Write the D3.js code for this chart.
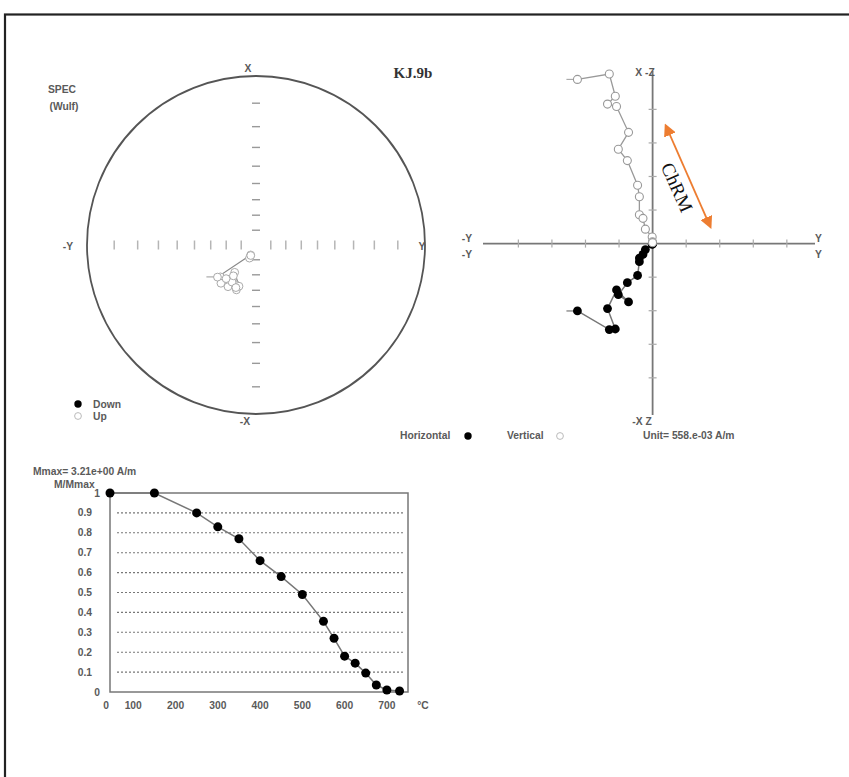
<!DOCTYPE html>
<html>
<head>
<meta charset="utf-8">
<script src="https://cdn.jsdelivr.net/npm/d3@7"></script>
<style>
  body { margin: 0; background: #fff; }
  svg { display: block; }
  .lbl { font-family: "Liberation Sans Narrow", "Liberation Sans", Arial, sans-serif; font-weight: bold; fill: #5a5a5a; font-size: 10.3px; }
</style>
</head>
<body>
<div id="chart"></div>
<script>
// Demagnetisation steps (°C) and normalised intensity M/Mmax
var temps = [45, 150, 250, 300, 350, 400, 450, 500, 550, 575, 600, 625, 650, 675, 700, 730]
var intensity = [1, 1, 0.90, 0.83, 0.77, 0.66, 0.58, 0.49, 0.355, 0.27, 0.18, 0.145, 0.095, 0.035, 0.01, 0.005]

// Vector components for each step (A/m): X north, Y east, Z down
var compX = [-1.12, -1.43, -1.42, -1.08, -0.77, -0.97, -0.85, -0.65, -0.53, -0.30, -0.24, -0.18, -0.10, -0.013, -0.005, -0.002]
var compY = [-1.25, -0.72, -0.62, -0.75, -0.60, -0.40, -0.57, -0.42, -0.25, -0.22, -0.22, -0.16, -0.12, -0.007, -0.0025, -0.001]
var compZ = [-2.73, -2.82, -2.45, -2.32, -2.28, -1.85, -1.57, -1.38, -0.97, -0.78, -0.48, -0.42, -0.24, -0.11, -0.032, -0.016]

// Axis ticks
var intensityTicks = [0, 0.1, 0.2, 0.3, 0.4, 0.5, 0.6, 0.7, 0.8, 0.9, 1]
var tempTicks = [100, 200, 300, 400, 500, 600, 700]
var stereoTickInc = [10, 20, 30, 40, 50, 60, 70, 80]
var zijUnit = 0.558
var zijTicksH = [-4, -3, -2, -1, 1, 2, 3, 4]
var zijTicksV = [-4, -3, -2, -1, 1, 2, 3, 4]

var width = 849
var height = 777

var svg = d3.select('#chart')
  .append('svg')
  .attr('width', width)
  .attr('height', height)

// page frame
svg.append('rect')
  .attr('x', 5).attr('y', 14.5)
  .attr('width', 900).attr('height', 900)
  .attr('fill', 'none')
  .attr('stroke', '#222')
  .attr('stroke-width', 2.2)

// ---------- Stereonet (Wulff) ----------
var cx = 256, cy = 245, R = 169
var rScale = d3.scaleLinear().domain([0, 1]).range([0, R])
var rad = Math.PI / 180

function stereoR (inc) {
  return rScale(Math.tan((90 - Math.abs(inc)) / 2 * rad))
}

svg.append('circle')
  .attr('cx', cx).attr('cy', cy).attr('r', R)
  .attr('fill', 'none')
  .attr('stroke', '#555')
  .attr('stroke-width', 1.8)

stereoTickInc.forEach(function (inc) {
  var r = stereoR(inc)
  ;[-1, 1].forEach(function (s) {
    svg.append('line')
      .attr('x1', cx + s * r).attr('x2', cx + s * r)
      .attr('y1', cy - 4.5).attr('y2', cy + 4.5)
      .attr('stroke', '#b5b5b5').attr('stroke-width', 1.5)
    svg.append('line')
      .attr('x1', cx - 4).attr('x2', cx + 4)
      .attr('y1', cy + s * r).attr('y2', cy + s * r)
      .attr('stroke', '#999').attr('stroke-width', 1.4)
  })
})

var stereoPts = temps.map(function (t, i) {
  var dec = Math.atan2(compY[i], compX[i]) / rad
  var h = Math.sqrt(compX[i] * compX[i] + compY[i] * compY[i])
  var inc = Math.atan2(compZ[i], h) / rad
  var r = stereoR(inc)
  return { x: cx + r * Math.sin(dec * rad), y: cy - r * Math.cos(dec * rad), up: inc < 0 }
})

svg.append('path')
  .datum(stereoPts)
  .attr('d', d3.line().x(function (d) { return d.x }).y(function (d) { return d.y }))
  .attr('fill', 'none')
  .attr('stroke', '#888')
  .attr('stroke-width', 1.2)

svg.append('line')
  .attr('x1', stereoPts[0].x - 14).attr('x2', stereoPts[0].x)
  .attr('y1', stereoPts[0].y).attr('y2', stereoPts[0].y)
  .attr('stroke', '#aaa').attr('stroke-width', 1.2)

svg.selectAll('.stp')
  .data(stereoPts)
  .enter()
  .append('circle')
  .attr('cx', function (d) { return d.x })
  .attr('cy', function (d) { return d.y })
  .attr('r', 3.9)
  .attr('fill', function (d) { return d.up ? '#fff' : '#000' })
  .attr('stroke', '#aaa')
  .attr('stroke-width', 1)

svg.append('text').attr('class', 'lbl').attr('x', 248).attr('y', 72).attr('text-anchor', 'middle').text('X')
svg.append('text').attr('class', 'lbl').attr('x', 245).attr('y', 425).attr('text-anchor', 'middle').text('-X')
svg.append('text').attr('class', 'lbl').attr('x', 68).attr('y', 250).attr('text-anchor', 'middle').text('-Y')
svg.append('text').attr('class', 'lbl').attr('x', 422).attr('y', 250).attr('text-anchor', 'middle').text('Y')
svg.append('text').attr('class', 'lbl').attr('x', 62).attr('y', 93).attr('text-anchor', 'middle').text('SPEC')
svg.append('text').attr('class', 'lbl').attr('x', 64).attr('y', 110).attr('text-anchor', 'middle').text('(Wulf)')

svg.append('circle').attr('cx', 78).attr('cy', 404).attr('r', 3.7).attr('fill', '#000')
svg.append('circle').attr('cx', 78).attr('cy', 416).attr('r', 3.4).attr('fill', '#fff').attr('stroke', '#bbb')
svg.append('text').attr('class', 'lbl').attr('x', 93).attr('y', 408).text('Down')
svg.append('text').attr('class', 'lbl').attr('x', 93).attr('y', 420).text('Up')

// title
svg.append('text')
  .attr('x', 413).attr('y', 78)
  .attr('text-anchor', 'middle')
  .attr('font-family', '"Liberation Serif", "Times New Roman", serif')
  .attr('font-weight', 'bold')
  .attr('font-size', '15px')
  .attr('fill', '#333')
  .text('KJ.9b')

// ---------- Zijderveld diagram ----------
var zx = d3.scaleLinear().domain([-2.82, 2.70]).range([483, 815])
var zy = d3.scaleLinear().domain([2.87, -2.85]).range([71, 415])

svg.append('line')
  .attr('x1', zx.range()[0]).attr('x2', zx.range()[1])
  .attr('y1', zy(0)).attr('y2', zy(0))
  .attr('stroke', '#777').attr('stroke-width', 1.8)
svg.append('line')
  .attr('x1', zx(0)).attr('x2', zx(0))
  .attr('y1', zy.range()[0]).attr('y2', zy.range()[1])
  .attr('stroke', '#777').attr('stroke-width', 1.8)

zijTicksH.forEach(function (k) {
  svg.append('line')
    .attr('x1', zx(k * zijUnit)).attr('x2', zx(k * zijUnit))
    .attr('y1', zy(0) - 4).attr('y2', zy(0) + 4)
    .attr('stroke', '#aaa').attr('stroke-width', 1.2)
})
zijTicksV.forEach(function (k) {
  svg.append('line')
    .attr('x1', zx(0) - 4).attr('x2', zx(0) + 4)
    .attr('y1', zy(k * zijUnit)).attr('y2', zy(k * zijUnit))
    .attr('stroke', '#aaa').attr('stroke-width', 1.2)
})

var horiz = temps.map(function (t, i) { return [zx(compY[i]), zy(compX[i])] })
var vert = temps.map(function (t, i) { return [zx(compY[i]), zy(-compZ[i])] })

svg.append('path').datum(vert)
  .attr('d', d3.line())
  .attr('fill', 'none').attr('stroke', '#999').attr('stroke-width', 1.3)
svg.append('path').datum(horiz)
  .attr('d', d3.line())
  .attr('fill', 'none').attr('stroke', '#777').attr('stroke-width', 1.5)

;[vert[0], horiz[0]].forEach(function (p, j) {
  svg.append('line')
    .attr('x1', p[0] - 11).attr('x2', p[0])
    .attr('y1', p[1]).attr('y2', p[1])
    .attr('stroke', j ? '#777' : '#aaa').attr('stroke-width', 1.2)
})

svg.selectAll('.hp')
  .data(horiz)
  .enter()
  .append('circle')
  .attr('cx', function (d) { return d[0] })
  .attr('cy', function (d) { return d[1] })
  .attr('r', 4.4)
  .attr('fill', '#000')

svg.selectAll('.vp')
  .data(vert)
  .enter()
  .append('circle')
  .attr('cx', function (d) { return d[0] })
  .attr('cy', function (d) { return d[1] })
  .attr('r', 4)
  .attr('fill', '#fff')
  .attr('stroke', '#999')
  .attr('stroke-width', 1.1)

svg.append('text').attr('class', 'lbl').attr('x', 645).attr('y', 76).attr('text-anchor', 'middle').text('X -Z')
svg.append('text').attr('class', 'lbl').attr('x', 642).attr('y', 425).attr('text-anchor', 'middle').text('-X  Z')
svg.append('text').attr('class', 'lbl').attr('x', 472).attr('y', 242).attr('text-anchor', 'end').text('-Y')
svg.append('text').attr('class', 'lbl').attr('x', 472).attr('y', 258).attr('text-anchor', 'end').text('-Y')
svg.append('text').attr('class', 'lbl').attr('x', 815).attr('y', 242).text('Y')
svg.append('text').attr('class', 'lbl').attr('x', 815).attr('y', 258).text('Y')

svg.append('text').attr('class', 'lbl').attr('x', 400).attr('y', 439).text('Horizontal')
svg.append('circle').attr('cx', 468).attr('cy', 436).attr('r', 3.7).attr('fill', '#000')
svg.append('text').attr('class', 'lbl').attr('x', 507).attr('y', 439).text('Vertical')
svg.append('circle').attr('cx', 560).attr('cy', 436).attr('r', 3.4).attr('fill', '#fff').attr('stroke', '#bbb')
svg.append('text').attr('class', 'lbl').attr('x', 643).attr('y', 439).text('Unit=  558.e-03 A/m')

// ChRM annotation
var arrowFrom = [0.22, 1.96], arrowTo = [0.96, 0.28]
var defs = svg.append('defs')
defs.append('marker')
  .attr('id', 'head')
  .attr('viewBox', '0 0 10 10')
  .attr('refX', 8).attr('refY', 5)
  .attr('markerWidth', 7).attr('markerHeight', 7)
  .attr('markerUnits', 'strokeWidth')
  .attr('orient', 'auto-start-reverse')
  .append('path')
  .attr('d', 'M0,0 L10,5 L0,10 z')
  .attr('fill', '#ED7D31')

svg.append('line')
  .attr('x1', zx(arrowFrom[0])).attr('y1', zy(arrowFrom[1]))
  .attr('x2', zx(arrowTo[0])).attr('y2', zy(arrowTo[1]))
  .attr('stroke', '#ED7D31')
  .attr('stroke-width', 1.8)
  .attr('marker-start', 'url(#head)')
  .attr('marker-end', 'url(#head)')

svg.append('text')
  .attr('transform', 'translate(671,190) rotate(66)')
  .attr('text-anchor', 'middle')
  .attr('font-family', '"Liberation Serif", "Times New Roman", serif')
  .attr('font-size', '19px')
  .attr('fill', '#111')
  .text('ChRM')

// ---------- Demagnetisation curve ----------
var dx = d3.scaleLinear().domain([45, 750]).range([110, 408])
var dy = d3.scaleLinear().domain([0, 1]).range([692, 493])

svg.selectAll('.grid')
  .data(intensityTicks.filter(function (v) { return v > 0 && v < 1 }))
  .enter()
  .append('line')
  .attr('x1', dx.range()[0] + 7).attr('x2', dx.range()[1] - 5)
  .attr('y1', function (d) { return dy(d) }).attr('y2', function (d) { return dy(d) })
  .attr('stroke', '#777')
  .attr('stroke-width', 1.1)
  .attr('stroke-dasharray', '2,2')

svg.append('rect')
  .attr('x', dx.range()[0]).attr('y', dy(1))
  .attr('width', dx.range()[1] - dx.range()[0])
  .attr('height', dy(0) - dy(1))
  .attr('fill', 'none')
  .attr('stroke', '#777')
  .attr('stroke-width', 1.5)

svg.selectAll('.ytl')
  .data(intensityTicks)
  .enter()
  .append('text')
  .attr('class', 'lbl')
  .attr('x', function (d) { return d % 1 === 0 ? 100 : 92 })
  .attr('y', function (d) { return dy(d) + 3.5 })
  .attr('text-anchor', 'end')
  .text(function (d) { return d })

svg.append('text').attr('class', 'lbl').attr('x', dx.range()[0] - 4).attr('y', 709).attr('text-anchor', 'middle').text('0')
svg.selectAll('.xtl')
  .data(tempTicks)
  .enter()
  .append('text')
  .attr('class', 'lbl')
  .attr('x', function (d) { return dx(d) })
  .attr('y', 709)
  .attr('text-anchor', 'middle')
  .text(function (d) { return d })
svg.append('text').attr('class', 'lbl').attr('x', 423).attr('y', 709).attr('text-anchor', 'middle').text('°C')

svg.append('text').attr('class', 'lbl').attr('x', 33).attr('y', 475).text('Mmax= 3.21e+00  A/m')
svg.append('text').attr('class', 'lbl').attr('x', 54).attr('y', 488).text('M/Mmax')

var demag = temps.map(function (t, i) { return [dx(t), dy(intensity[i])] })

svg.append('path').datum(demag)
  .attr('d', d3.line())
  .attr('fill', 'none').attr('stroke', '#777').attr('stroke-width', 1.5)

svg.selectAll('.dp')
  .data(demag)
  .enter()
  .append('circle')
  .attr('cx', function (d) { return d[0] })
  .attr('cy', function (d) { return d[1] })
  .attr('r', 4.5)
  .attr('fill', '#000')
</script>
</body>
</html>
